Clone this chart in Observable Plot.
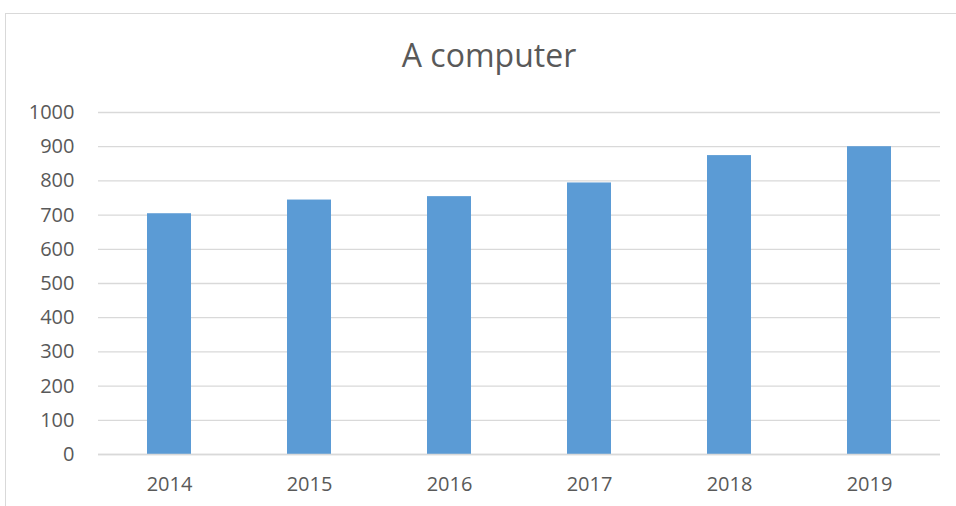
<!DOCTYPE html>
<html>
<head>
<meta charset="utf-8">
<script src="https://cdn.jsdelivr.net/npm/d3@7"></script>
<script src="https://cdn.jsdelivr.net/npm/@observablehq/plot@0.6"></script>
<style>
  html, body { margin: 0; padding: 0; background: #fff; }
  #wrap { position: relative; width: 956px; height: 506px; overflow: hidden; font-family: "Open Sans", sans-serif; }
  #frame { position: absolute; left: 5px; top: 13px; width: 960px; height: 520px; border: 1px solid #d9d9d9; box-sizing: border-box; }
  #title { position: absolute; left: 0; width: 978px; top: 34px; text-align: center; font-size: 32px; color: #595959; line-height: 42px; font-family: "Open Sans", sans-serif; }
  #chart { position: absolute; left: 0; top: 0; }
</style>
</head>
<body>
<div id="wrap">
  <div id="frame"></div>
  <div id="title">A computer</div>
  <div id="chart"></div>
</div>
<script>
const years = ["2014", "2015", "2016", "2017", "2018", "2019"];
const values = [704, 744, 754, 794, 874, 900];
const yTicks = [0, 100, 200, 300, 400, 500, 600, 700, 800, 900, 1000];

const data = years.map((y, i) => ({year: y, value: values[i]}));

const chart = Plot.plot({
  width: 956,
  height: 506,
  marginLeft: 98,
  marginRight: 16,
  marginTop: 112,
  marginBottom: 52,
  style: {fontFamily: '"Open Sans", sans-serif', fontSize: "20px", color: "#595959", background: "transparent", overflow: "visible"},
  x: {domain: years, paddingInner: 0.686, paddingOuter: 0.343, label: null, tickSize: 0},
  y: {domain: [0, 1000], ticks: yTicks, label: null, tickSize: 0},
  marks: [
    Plot.gridY(yTicks, {stroke: "#d9d9d9", strokeOpacity: 1, strokeWidth: 1.3}),
    Plot.barY(data, {x: "year", y: "value", fill: "#5b9bd5"}),
    Plot.ruleY([0], {stroke: "#d9d9d9", strokeWidth: 1.3}),
    Plot.axisY(yTicks, {tickSize: 0, tickPadding: 24, fontSize: 20, fill: "#595959", label: null, tickFormat: d => String(d)}),
    Plot.axisX(years, {tickSize: 0, tickPadding: 22, fontSize: 20, fill: "#595959", label: null})
  ]
});
document.getElementById("chart").appendChild(chart);
</script>
</body>
</html>
